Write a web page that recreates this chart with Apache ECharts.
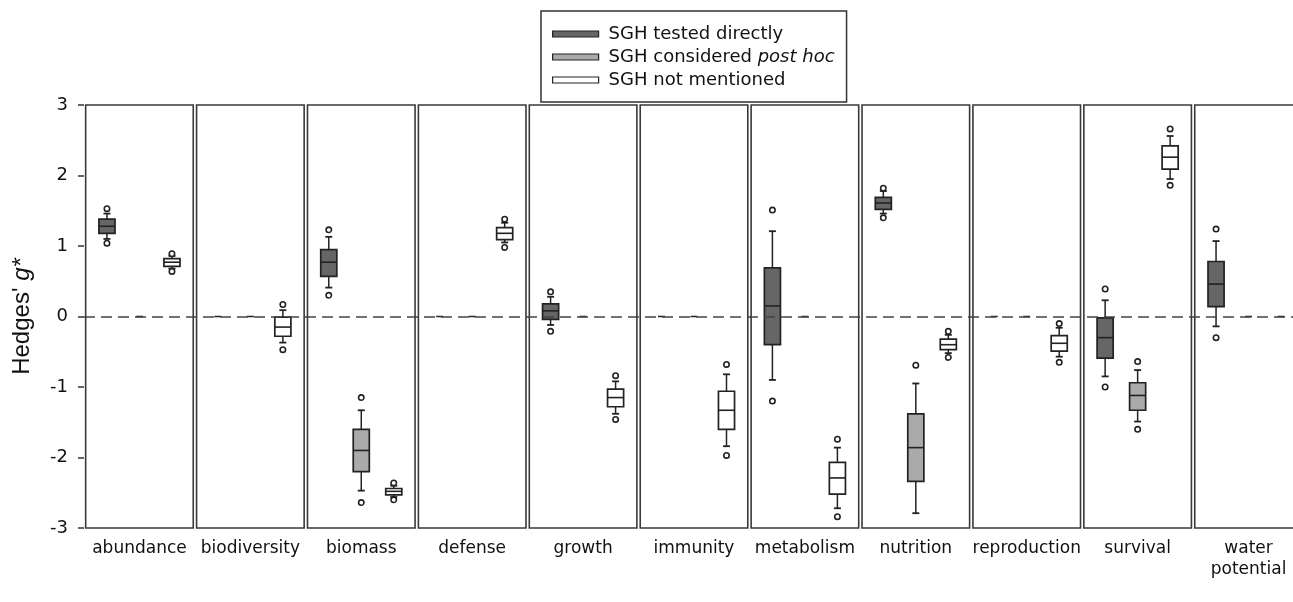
<!DOCTYPE html>
<html>
<head>
<meta charset="utf-8">
<script src="https://cdn.jsdelivr.net/npm/echarts@6/dist/echarts.min.js"></script>
<style>
html,body{margin:0;padding:0;background:#fff;}
#chart{width:1293px;height:602px;}
</style>
</head>
<body>
<div id="chart"></div>
<script>
// Categories (x axis labels)
const categories = ['abundance','biodiversity','biomass','defense','growth','immunity','metabolism','nutrition','reproduction','survival','water\npotential'];
// Y tick values
const yTicks = [-3,-2,-1,0,1,2,3];
// Each box: [lowOutlier, lowWhisker, Q1, median, Q3, highWhisker, highOutlier]; null = not available
const testedDirectly = [
  [1.04, 1.10, 1.18, 1.28, 1.38, 1.46, 1.53],
  null,
  [0.30, 0.41, 0.57, 0.77, 0.95, 1.13, 1.23],
  null,
  [-0.21, -0.12, -0.04, 0.08, 0.18, 0.28, 0.35],
  null,
  [-1.20, -0.90, -0.40, 0.15, 0.69, 1.21, 1.51],
  [1.40, 1.46, 1.52, 1.61, 1.69, 1.78, 1.82],
  null,
  [-1.00, -0.85, -0.59, -0.30, -0.02, 0.23, 0.39],
  [-0.30, -0.14, 0.14, 0.46, 0.78, 1.07, 1.24]
];
const postHoc = [
  null,
  null,
  [-2.64, -2.47, -2.20, -1.90, -1.60, -1.33, -1.15],
  null,
  null,
  null,
  null,
  [null, -2.79, -2.34, -1.86, -1.38, -0.95, -0.69],
  null,
  [-1.60, -1.49, -1.33, -1.12, -0.94, -0.76, -0.64],
  null
];
const notMentioned = [
  [0.64, 0.68, 0.71, 0.77, 0.82, 0.86, 0.89],
  [-0.47, -0.37, -0.28, -0.15, -0.01, 0.09, 0.17],
  [-2.60, -2.56, -2.53, -2.48, -2.44, -2.40, -2.36],
  [0.98, 1.05, 1.09, 1.18, 1.26, 1.33, 1.38],
  [-1.46, -1.38, -1.28, -1.15, -1.03, -0.92, -0.84],
  [-1.97, -1.84, -1.60, -1.33, -1.06, -0.82, -0.68],
  [-2.84, -2.72, -2.52, -2.29, -2.07, -1.86, -1.74],
  [-0.58, -0.52, -0.47, -0.40, -0.32, -0.26, -0.21],
  [-0.65, -0.57, -0.49, -0.38, -0.27, -0.16, -0.10],
  [1.86, 1.95, 2.09, 2.26, 2.42, 2.56, 2.66],
  null
];
const seriesNames = ['SGH tested directly','SGH considered post hoc','SGH not mentioned'];

const STROKE = '#222';
const fills = ['#666666', '#aaaaaa', '#ffffff'];
const offsets = [-0.293, 0, 0.293];
const WIDE_FONT = 'DejaVu Sans, Verdana, sans-serif';
const ARIAL = 'Liberation Sans, Arial, sans-serif';

function boxRenderer(arr, offsetFrac, fill) {
  return function (params, api) {
    const i = api.value(0);
    const d = arr[params.dataIndex];
    const band = api.size([1, 0])[0];
    const cx = api.coord([i, 0])[0] + offsetFrac * band;
    const y = v => api.coord([i, v])[1];
    const lineStyle = {stroke: STROKE, lineWidth: 1.5};
    if (!d) {
      return {type: 'line', shape: {x1: cx - 3.5, y1: y(0), x2: cx + 3.5, y2: y(0)}, style: lineStyle};
    }
    const bw = band * 0.145;
    const cap = 3.5;
    const children = [];
    children.push({type: 'line', shape: {x1: cx, y1: y(d[1]), x2: cx, y2: y(d[2])}, style: lineStyle});
    children.push({type: 'line', shape: {x1: cx, y1: y(d[4]), x2: cx, y2: y(d[5])}, style: lineStyle});
    children.push({type: 'line', shape: {x1: cx - cap, y1: y(d[1]), x2: cx + cap, y2: y(d[1])}, style: {stroke: STROKE, lineWidth: 1.8}});
    children.push({type: 'line', shape: {x1: cx - cap, y1: y(d[5]), x2: cx + cap, y2: y(d[5])}, style: {stroke: STROKE, lineWidth: 1.8}});
    const top = y(d[4]), bot = y(d[2]);
    children.push({type: 'rect', shape: {x: cx - bw / 2, y: top, width: bw, height: bot - top}, style: {fill: fill, stroke: STROKE, lineWidth: 1.7}});
    children.push({type: 'line', shape: {x1: cx - bw / 2, y1: y(d[3]), x2: cx + bw / 2, y2: y(d[3])}, style: {stroke: STROKE, lineWidth: 1.6}});
    [d[0], d[6]].forEach(o => {
      if (o !== null && o !== undefined) {
        children.push({type: 'circle', shape: {cx: cx, cy: y(o), r: 2.7}, style: {fill: '#fff', stroke: STROKE, lineWidth: 1.6}});
      }
    });
    return {type: 'group', children: children};
  };
}

const dataArrays = [testedDirectly, postHoc, notMentioned];
const boxSeries = dataArrays.map((arr, k) => ({
  type: 'custom',
  name: seriesNames[k],
  z: 3,
  silent: true,
  clip: false,
  itemStyle: {color: fills[k], borderColor: STROKE, borderWidth: 1.2},
  renderItem: boxRenderer(arr, offsets[k], fills[k]),
  data: categories.map((c, i) => [i, arr[i] ? arr[i][3] : 0])
}));

const frameSeries = {
  type: 'custom',
  name: 'frames',
  z: 5,
  silent: true,
  clip: false,
  renderItem: function (params, api) {
    const i = api.value(0);
    const band = api.size([1, 0])[0];
    const cx = api.coord([i, 0])[0];
    const top = api.coord([i, yTicks[yTicks.length - 1]])[1];
    const bot = api.coord([i, yTicks[0]])[1];
    const w = band * 0.97;
    return {type: 'rect', shape: {x: cx - w / 2, y: top, width: w, height: bot - top},
      style: {fill: 'none', stroke: '#3a3a3a', lineWidth: 1.6}};
  },
  data: categories.map((c, i) => [i, 0]),
  markLine: {
    silent: true,
    symbol: ['none', 'none'],
    label: {show: false},
    lineStyle: {color: '#444', type: [11, 6], width: 1.5},
    data: [{yAxis: 0}]
  }
};

const chart = echarts.init(document.getElementById('chart'), null, {renderer: 'canvas'});
chart.setOption({
  animation: false,
  backgroundColor: '#fff',
  textStyle: {fontFamily: WIDE_FONT},
  grid: {left: 84, top: 105, width: 1220, height: 423, containLabel: false, outerBoundsMode: 'none'},
  legend: {
    orient: 'vertical',
    left: 541,
    top: 11,
    padding: [14, 12, 13, 11],
    borderColor: '#333',
    borderWidth: 1.5,
    itemWidth: 46,
    itemHeight: 6,
    itemGap: 5,
    icon: 'rect',
    data: seriesNames.map((n, k) => ({name: n, itemStyle: {color: fills[k], borderColor: STROKE, borderWidth: 1.2}})),
    formatter: function (name) {
      if (name === 'SGH considered post hoc') return '{n|SGH considered }{i|post hoc}';
      return '{n|' + name + '}';
    },
    textStyle: {
      color: '#111',
      fontSize: 18,
      padding: [0, 0, 0, 5],
      rich: {
        n: {fontSize: 18, color: '#111', fontFamily: WIDE_FONT},
        i: {fontSize: 18, color: '#111', fontStyle: 'italic', fontFamily: WIDE_FONT}
      }
    }
  },
  xAxis: {
    type: 'category',
    data: categories,
    axisLine: {show: false},
    axisTick: {show: false},
    splitLine: {show: false},
    axisLabel: {color: '#111', fontSize: 17, margin: 10, interval: 0, lineHeight: 21, fontFamily: WIDE_FONT}
  },
  yAxis: {
    type: 'value',
    min: yTicks[0],
    max: yTicks[yTicks.length - 1],
    interval: 1,
    name: "{a|Hedges' }{b|g*}",
    nameLocation: 'middle',
    nameGap: 50,
    nameTextStyle: {
      rich: {
        a: {fontSize: 24, color: '#111', fontFamily: ARIAL},
        b: {fontSize: 24, color: '#111', fontStyle: 'italic', fontFamily: ARIAL}
      }
    },
    axisLine: {show: false},
    axisTick: {show: true, length: 6, lineStyle: {color: '#333', width: 1.5}},
    splitLine: {show: false},
    axisLabel: {color: '#111', fontSize: 18, margin: 16, fontFamily: WIDE_FONT}
  },
  series: [frameSeries].concat(boxSeries)
});
</script>
</body>
</html>
